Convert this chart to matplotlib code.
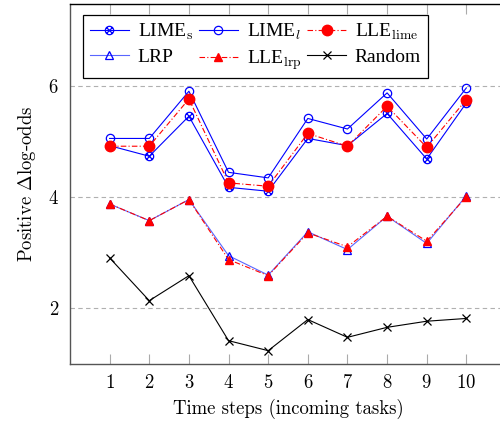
import numpy as np
import matplotlib
matplotlib.use('Agg')
import matplotlib.pyplot as plt
from matplotlib.path import Path

plt.rcParams['font.family'] = 'cmr10'
plt.rcParams['mathtext.fontset'] = 'cm'
plt.rcParams['axes.formatter.use_mathtext'] = True

# data
steps = [1, 2, 3, 4, 5, 6, 7, 8, 9, 10]
lime_s = [4.92, 4.73, 5.45, 4.17, 4.10, 5.05, 4.92, 5.50, 4.68, 5.69]
lime_l = [5.05, 5.05, 5.90, 4.44, 4.34, 5.41, 5.22, 5.87, 5.04, 5.96]
lle_lime = [4.91, 4.91, 5.76, 4.25, 4.19, 5.14, 4.91, 5.63, 4.89, 5.75]
lrp = [3.87, 3.57, 3.95, 2.94, 2.59, 3.37, 3.05, 3.65, 3.16, 4.02]
lle_lrp = [3.87, 3.57, 3.95, 2.87, 2.58, 3.35, 3.10, 3.65, 3.20, 4.00]
random_ = [2.90, 2.13, 2.58, 1.41, 1.23, 1.79, 1.47, 1.65, 1.76, 1.81]

# circle with a cross inside (otimes)
d = np.sqrt(0.5)
cross = Path([[-d, -d], [d, d], [-d, d], [d, -d]],
             [Path.MOVETO, Path.LINETO, Path.MOVETO, Path.LINETO])
otimes = Path.make_compound_path(Path.unit_circle(), cross)

fig = plt.figure(figsize=(5, 4.26), dpi=100)
ax = fig.add_axes([70/500, 1-364/426, 436/500, 360/426])

lw = 0.8
dashdot = (0, (5, 2, 1, 2))
ax.plot(steps, lime_s, color='blue', lw=lw, marker=otimes, ms=6, mfc='none',
        mec='blue', mew=0.9, label=r'LIME$_\mathrm{s}$')
ax.plot(steps, lrp, color=(0.35, 0.4, 1.0), lw=lw, marker='^', ms=6, mfc='none',
        mec='blue', mew=0.9, label='LRP')
ax.plot(steps, lime_l, color='blue', lw=lw, marker='o', ms=6, mfc='none',
        mec='blue', mew=0.9, label=r'LIME$_l$')
ax.plot(steps, lle_lrp, color='red', lw=lw, ls=dashdot, marker='^', ms=6,
        mfc='red', mec='red', label=r'LLE$_\mathrm{lrp}$')
ax.plot(steps, lle_lime, color='red', lw=lw, ls=dashdot, marker='o', ms=7.5,
        mfc='red', mec='red', label=r'LLE$_\mathrm{lime}$')
ax.plot(steps, random_, color='black', lw=lw, marker='x', ms=6, mew=0.9,
        label='Random')

ax.set_xlim(0, 11)
ax.set_ylim(0.99, 7.47)
ax.set_xticks(steps)
ax.set_yticks([2, 4, 6])
ax.grid(axis='y', color='#b0b0b0', ls=(0, (4, 3)), lw=0.8)
ax.tick_params(axis='x', direction='in', top=True, length=7, color='#aaaaaa',
               labelsize=13.5, pad=7)
ax.tick_params(axis='y', length=0, labelsize=13.5, pad=8)
for s in ax.spines.values():
    s.set_color('#555555')
    s.set_linewidth(1.0)
ax.spines['top'].set_color('black')

ax.set_xlabel('Time steps (incoming tasks)', fontsize=13.5, labelpad=5)
ax.set_ylabel(r'Positive $\Delta$log-odds', fontsize=13.5, labelpad=7)

leg = ax.legend(ncol=3, loc='upper left', bbox_to_anchor=(0.03, 0.969),
                borderaxespad=0, prop={'family': 'Liberation Serif', 'size': 14},
                fancybox=False, edgecolor='black', framealpha=1,
                handlelength=2.0, handletextpad=0.45, columnspacing=0.3,
                labelspacing=0.3, borderpad=0.35)
leg.get_frame().set_linewidth(0.9)

fig.savefig('out.png', dpi=100)
